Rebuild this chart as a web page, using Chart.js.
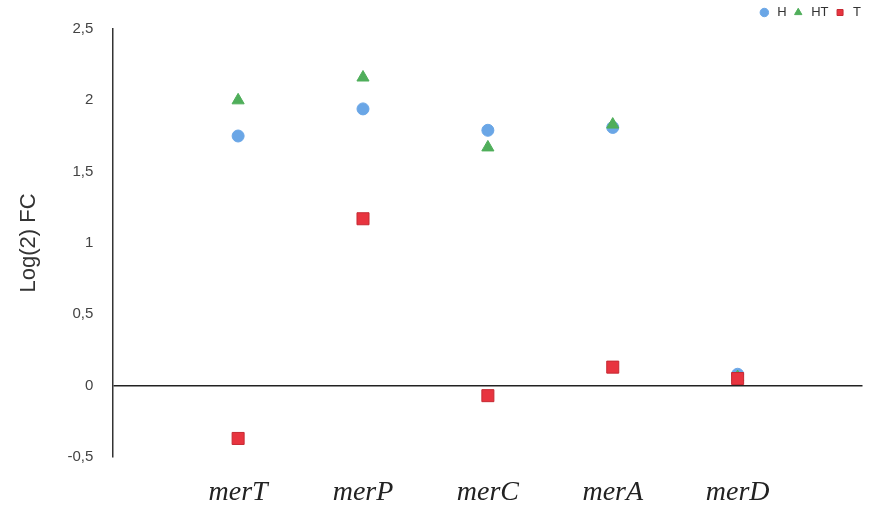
<!DOCTYPE html>
<html>
<head>
<meta charset="utf-8">
<script src="https://cdn.jsdelivr.net/npm/chart.js@4/dist/chart.umd.min.js"></script>
<style>
  body { margin: 0; background: #fff; }
</style>
</head>
<body>
<canvas id="myChart" width="872" height="510"></canvas>
<script>
var genes = ["merT", "merP", "merC", "merA", "merD"];
var hValues = [1.75, 1.94, 1.79, 1.81, 0.08];
var htValues = [2.0, 2.16, 1.67, 1.83, 0.06];
var tValues = [-0.37, 1.17, -0.07, 0.13, 0.05];
var yTicks = [-0.5, 0, 0.5, 1, 1.5, 2, 2.5];

function toPoints(values) {
  return values.map(function (v, i) {
    return { x: i + 1, y: v };
  });
}

new Chart("myChart", {
  type: "scatter",
  data: {
    datasets: [
      {
        label: "H",
        order: 3,
        data: toPoints(hValues),
        pointStyle: "circle",
        pointRadius: 6,
        backgroundColor: "#6aa6e6",
        borderColor: "#6aa6e6",
      },
      {
        label: "HT",
        order: 2,
        data: toPoints(htValues),
        pointStyle: "triangle",
        pointRadius: 7,
        backgroundColor: "#4fae5a",
        borderColor: "#4fae5a",
      },
      {
        label: "T",
        order: 1,
        data: toPoints(tValues),
        pointStyle: "rect",
        pointRadius: 8.5,
        backgroundColor: "#e8343f",
        borderColor: "#c62a33",
      },
    ],
  },
  options: {
    responsive: false,
    animation: false,
    layout: { padding: { top: 0, right: 6, bottom: 0, left: 7 } },
    plugins: {
      tooltip: { enabled: false },
      legend: {
        position: "top",
        align: "end",
        labels: {
          usePointStyle: true,
          boxWidth: 18,
          boxHeight: 6,
          padding: 5,
          color: "#333",
          font: { family: "Liberation Sans", size: 13 },
          sort: function (a, b) {
            return a.datasetIndex - b.datasetIndex;
          },
        },
      },
    },
    scales: {
      x: {
        type: "linear",
        min: 0,
        max: 6,
        afterFit: function (scale) {
          scale.height = 53;
          scale.paddingRight = 4;
        },
        ticks: {
          stepSize: 1,
          padding: 19,
          color: "#222",
          font: { family: "Liberation Serif", size: 28, style: "italic" },
          callback: function (v) {
            return genes[v - 1] || "";
          },
        },
        grid: { display: false, drawTicks: false },
        border: { display: false },
      },
      y: {
        min: -0.5,
        max: 2.5,
        afterBuildTicks: function (axis) {
          axis.ticks = yTicks.map(function (v) { return { value: v }; });
        },
        ticks: {
          padding: 20,
          color: "#444",
          font: { family: "Liberation Sans", size: 15 },
          callback: function (v) {
            return String(v).replace(".", ",");
          },
        },
        grid: {
          drawTicks: false,
          lineWidth: 1.5,
          color: function (ctx) {
            return ctx.tick && ctx.tick.value === 0 ? "#222" : "rgba(0,0,0,0)";
          },
        },
        border: { display: true, color: "#333", width: 1.5 },
        title: {
          display: true,
          text: "Log(2) FC",
          color: "#333",
          font: { family: "Liberation Sans", size: 22 },
          padding: { top: 9, bottom: 5 },
        },
      },
    },
  },
});
</script>
</body>
</html>
